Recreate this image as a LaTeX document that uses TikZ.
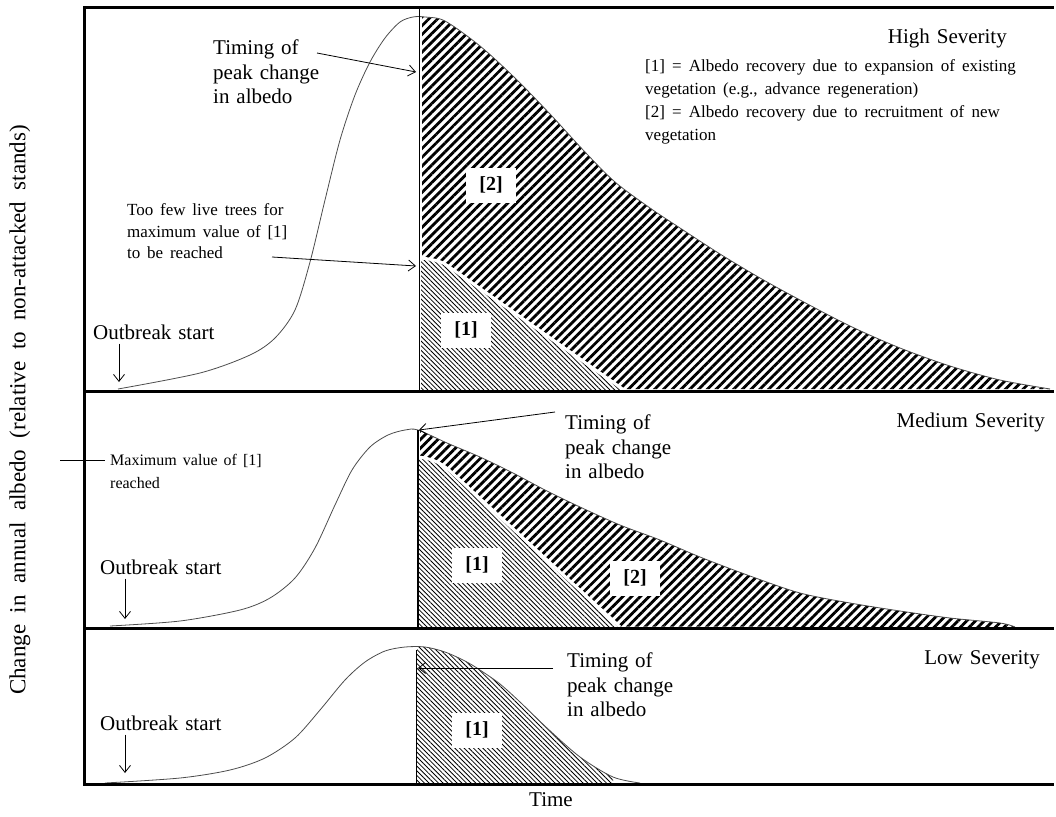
\documentclass[tikz,border=0pt]{standalone}
\usepackage{fontspec}
\setmainfont{Liberation Serif}
\usetikzlibrary{patterns.meta,arrows.meta}
\newcommand\wsp[1]{\spaceskip=#1\relax}
\begin{document}
\begin{tikzpicture}[x=1pt,y=-1pt,
  frame/.style={line width=3pt, line cap=rect},
  curve/.style={line width=0.8pt, black!70},
  hatchA/.style={pattern={Lines[angle=45,distance=6.2pt,line width=2.8pt]}},
  hatchB/.style={pattern={Lines[angle=-45,distance=3.3pt,line width=0.8pt]}},
  lbl/.style={fill=white, font={\bfseries\fontsize{20}{24}\selectfont}, minimum width=50pt, minimum height=35pt, inner sep=0pt},
  txt/.style={font={\fontsize{21}{24.5}\selectfont\wsp{0.33em}}, align=left, inner sep=0pt},
  small/.style={font={\fontsize{17}{21.5}\selectfont\wsp{0.4em}}, align=left, inner sep=0pt},
  arr/.style={-{Straight Barb[length=7pt,width=11pt]}, line width=0.8pt}]
\useasboundingbox (0,0) rectangle (1056,816);

% ---------- HIGH severity ----------
\begin{scope}
  \clip (422,9) rectangle (1056,390);
  \fill[hatchA] plot[smooth] coordinates {(118,389) (200,373) (250,355) (275,338) (295,310) (310,262) (325,200) (340,140) (355,95) (370,62) (385,38) (400,22) (413,17) (425,17) (445,21) (480,46) (515,78) (550,114) (585,152) (615,182) (650,208) (680,228) (720,254) (760,278) (800,300) (850,326) (900,348) (950,366) (1000,380) (1050,389)} -- cycle;
\end{scope}
\fill[white] (421,258) .. controls (438,260) and (442,262) .. (448,266) -- (624,390) -- (421,390) -- cycle;
\fill[hatchB] (421,258) .. controls (438,260) and (442,262) .. (448,266) -- (624,390) -- (421,390) -- cycle;
\draw[white, line width=3pt] (421,258) .. controls (438,260) and (442,262) .. (448,266) -- (624,390);
\node[lbl] (l2a) at (491,185) {[2]};
\node[lbl] (l1a) at (466,330) {[1]};
\draw[curve] plot[smooth] coordinates {(118,389) (200,373) (250,355) (275,338) (295,310) (310,262) (325,200) (340,140) (355,95) (370,62) (385,38) (400,22) (413,17) (425,17) (445,21) (480,46) (515,78) (550,114) (585,152) (615,182) (650,208) (680,228) (720,254) (760,278) (800,300) (850,326) (900,348) (950,366) (1000,380) (1050,389)};
\draw[line width=0.8pt] (419,8) -- (419,390);

% ---------- MEDIUM severity ----------
\begin{scope}
  \clip (420,392) rectangle (1056,627);
  \fill[hatchA] plot[smooth] coordinates {(110,626) (180,621) (240,610) (270,598) (295,578) (315,548) (335,505) (352,470) (370,447) (388,435) (405,430) (418,430) (447,443) (480,457) (513,473) (545,490) (580,507) (620,525) (660,540) (700,557) (750,576) (800,593) (850,603) (900,611) (950,618) (1000,623) (1015,627)} -- cycle;
\end{scope}
\fill[white] (419,457) .. controls (432,459) and (440,462) .. (450,471) -- (620,627) -- (419,627) -- cycle;
\fill[hatchB] (419,457) .. controls (432,459) and (440,462) .. (450,471) -- (620,627) -- (419,627) -- cycle;
\draw[white, line width=3pt] (419,457) .. controls (432,459) and (440,462) .. (450,471) -- (620,627);
\node[lbl] (l1b) at (477,565) {[1]};
\node[lbl] (l2b) at (635,578) {[2]};
\draw[curve] plot[smooth] coordinates {(110,626) (180,621) (240,610) (270,598) (295,578) (315,548) (335,505) (352,470) (370,447) (388,435) (405,430) (418,430) (447,443) (480,457) (513,473) (545,490) (580,507) (620,525) (660,540) (700,557) (750,576) (800,593) (850,603) (900,611) (950,618) (1000,623) (1015,627)};
\draw[line width=1.8pt] (418,430) -- (418,628);

% ---------- LOW severity ----------
\begin{scope}
  \clip (417,630) rectangle (613,783);
  \fill[hatchB] plot[smooth] coordinates {(105,783) (180,778) (230,770) (265,758) (295,738) (320,710) (345,680) (365,662) (385,651) (405,647) (425,647) (445,652) (465,661) (480,670) (500,684) (520,702) (547,728) (580,757) (613,777) (640,783)} -- cycle;
\end{scope}
\node[lbl] (l1c) at (477,730) {[1]};
\draw[curve] plot[smooth] coordinates {(105,783) (180,778) (230,770) (265,758) (295,738) (320,710) (345,680) (365,662) (385,651) (405,647) (425,647) (445,652) (465,661) (480,670) (500,684) (520,702) (547,728) (580,757) (613,777) (640,783)};
\draw[line width=0.8pt] (416,650) -- (416,784);

% ---------- frames ----------
\draw[frame] (84,8) -- (1052,8);
\draw[frame] (84,8) -- (84,784);
\draw[frame] (84,391) -- (1052,391);
\draw[frame] (84,628) -- (1052,628);
\draw[frame] (84,784) -- (1052,784);

% ---------- texts ----------
\node[txt, anchor=east] (hs) at (1007,38) {High Severity};
\node[txt, anchor=east] (ms) at (1045,422) {Medium Severity};
\node[txt, anchor=east] (ls) at (1040,660) {Low Severity};

\node[font={\fontsize{17}{23}\selectfont\wsp{0.42em}}, align=left, inner sep=0pt, anchor=north west] (leg) at (645,59)
  {[1] = Albedo recovery due to expansion of existing\\vegetation (e.g., advance regeneration)\\{[2]} = Albedo recovery due to recruitment of new\\vegetation};

\node[txt, anchor=west] (tpa) at (213,72) {Timing of\\peak change\\in albedo};
\coordinate (tpa1) at (317,53);
\coordinate (tpa2) at (416,72);
\draw[arr] (tpa1) -- (tpa2);

\node[small, anchor=west] (few) at (127,231.5) {Too few live trees for\\maximum value of [1]\\to be reached};
\coordinate (few1) at (272,257);
\coordinate (few2) at (416,266);
\draw[arr] (few1) -- (few2);

\node[txt, anchor=west] (oba) at (93,332) {Outbreak start};
\coordinate (oba2) at (119,382);
\draw[arr] (oba.south -| oba2) ++(0,4) coordinate (oba1) -- (oba2);

\node[txt, anchor=west] (tpb) at (565,447) {Timing of\\peak change\\in albedo};
\coordinate (tpb1) at (555,412);
\coordinate (tpb2) at (419,430);
\draw[arr] (tpb1) -- (tpb2);

\node[font={\fontsize{16}{23}\selectfont\wsp{0.38em}}, align=left, inner sep=0pt, anchor=west] (maxv) at (110,471.5) {Maximum value of [1]\\reached};
\coordinate (mx1) at (60,460);
\coordinate (mx2) at (105,460);
\draw[line width=0.8pt] (mx1) -- (mx2);

\node[txt, anchor=west] (obb) at (100,567) {Outbreak start};
\coordinate (obb2) at (125,619);
\draw[arr] (obb.south -| obb2) ++(0,4) coordinate (obb1) -- (obb2);

\node[txt, anchor=west] (tpc) at (567,685) {Timing of\\peak change\\in albedo};
\coordinate (tpc1) at (553,668);
\coordinate (tpc2) at (418,668);
\draw[arr] (tpc1) -- (tpc2);

\node[txt, anchor=west] (obc) at (100,723) {Outbreak start};
\coordinate (obc2) at (125,773);
\draw[arr] (obc.south -| obc2) ++(0,4) coordinate (obc1) -- (obc2);

\node[font={\fontsize{23}{27}\selectfont\wsp{0.5em}}, inner sep=0pt, rotate=90] (ylab) at (20,410) {Change in annual albedo (relative to non-attacked stands)};
\node[txt] (time) at (551,800) {Time};
\end{tikzpicture}
\end{document}
